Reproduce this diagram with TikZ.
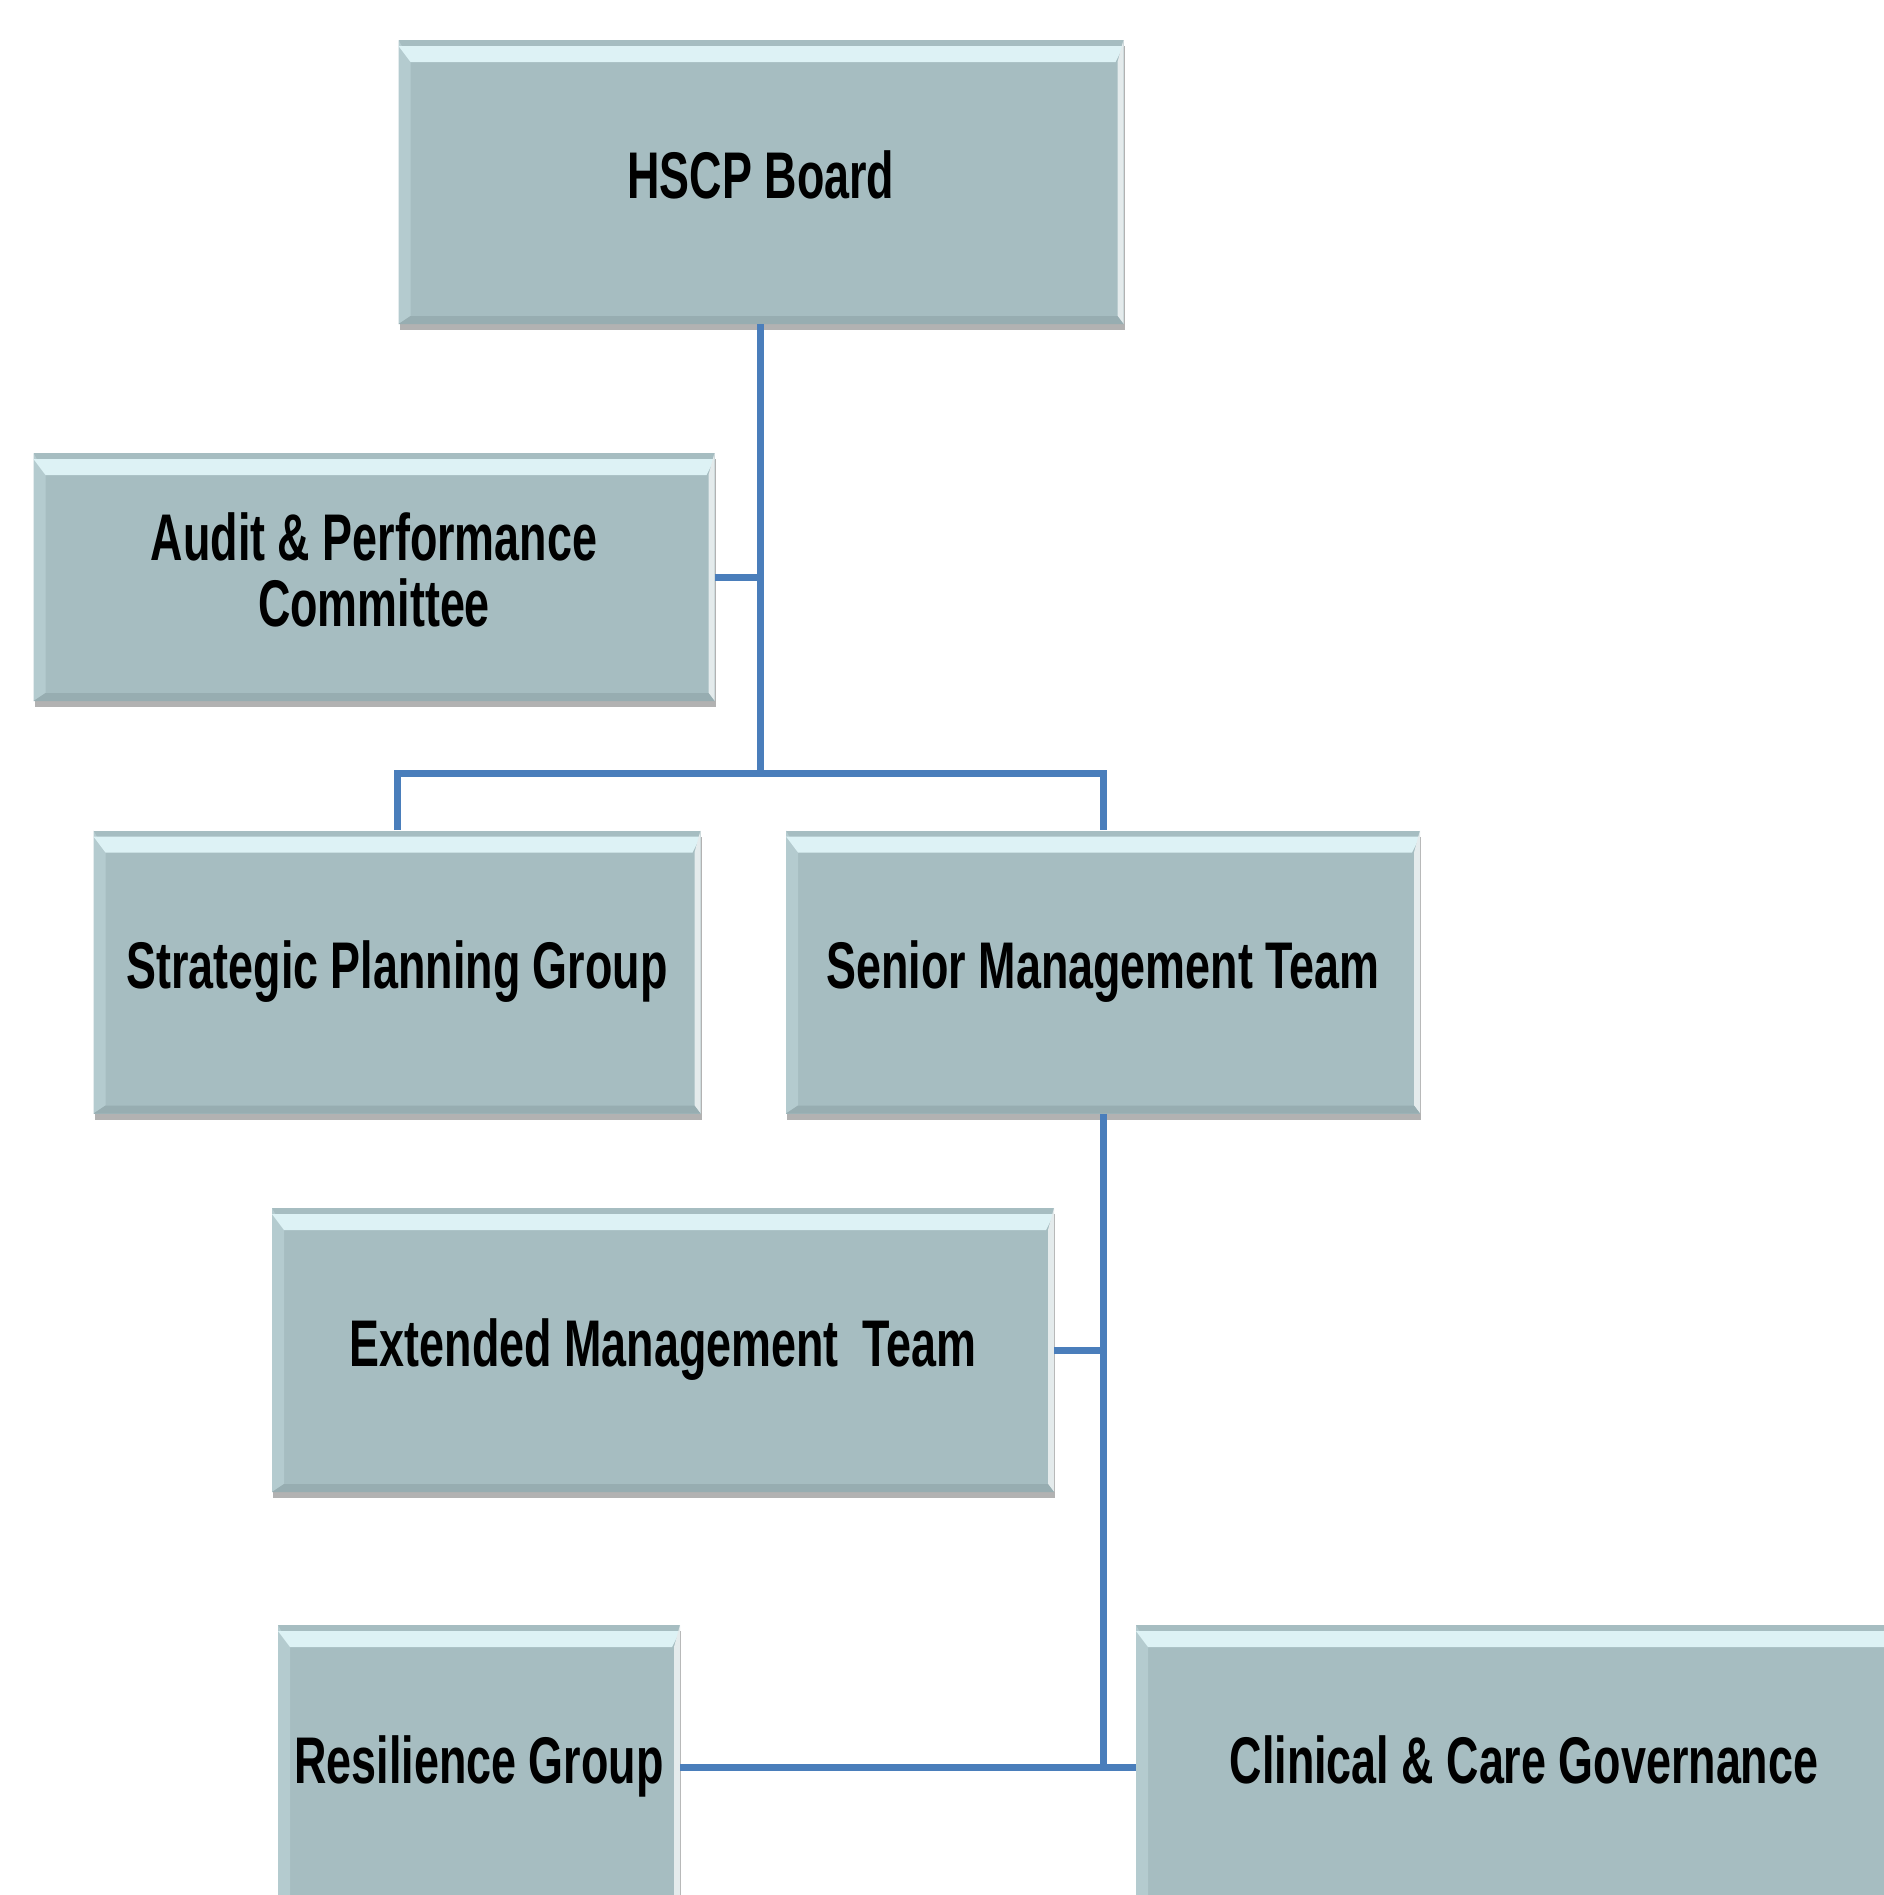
\documentclass[tikz,border=0pt]{standalone}
\usepackage{fontspec}
\setmainfont{Liberation Sans}[FakeStretch=0.68]
\usetikzlibrary{shadows}
\definecolor{boxfill}{HTML}{A6BDC1}
\definecolor{boxtop}{HTML}{DDF2F5}
\definecolor{boxleft}{HTML}{B4CBCF}
\definecolor{boxbottom}{HTML}{97ADB1}
\definecolor{linkblue}{HTML}{4A7EBB}
\tikzset{
  orgbox/.style = {rectangle, fill=boxfill, inner sep=0pt, align=center, text depth=7pt,
    font=\fontsize{33}{33}\selectfont\bfseries,
    drop shadow={shadow xshift=0.5pt, shadow yshift=-3pt, opacity=0.3, fill=black},
    path picture={
      \fill[boxleft] (path picture bounding box.north west) -- (path picture bounding box.south west)
        -- ([shift={(6pt,4pt)}]path picture bounding box.south west) -- ([shift={(6pt,-11pt)}]path picture bounding box.north west) -- cycle;
      \fill[boxtop] ([yshift=-3pt]path picture bounding box.north west) -- ([yshift=-3pt]path picture bounding box.north east)
        -- ([shift={(-4pt,-11pt)}]path picture bounding box.north east) -- ([shift={(6pt,-11pt)}]path picture bounding box.north west) -- cycle;
      \fill[white!70!boxfill] (path picture bounding box.north east) -- (path picture bounding box.south east)
        -- ([shift={(-3pt,4pt)}]path picture bounding box.south east) -- ([shift={(-3pt,-11pt)}]path picture bounding box.north east) -- cycle;
      \fill[boxbottom] (path picture bounding box.south west) -- (path picture bounding box.south east)
        -- ([shift={(-3pt,4pt)}]path picture bounding box.south east) -- ([shift={(6pt,4pt)}]path picture bounding box.south west) -- cycle;
    }},
  link/.style = {draw=linkblue, line width=3.5pt}
}

\begin{document}
\begin{tikzpicture}[x=0.5pt, y=-0.5pt]
  \clip (0,0) rectangle (1884,1895);
  \fill[white] (0,0) rectangle (1884,1895);

  \node[orgbox, minimum width=362.5pt, minimum height=142pt] (board) at (761,182) {HSCP Board};
  \node[orgbox, minimum width=340.5pt, minimum height=124pt] (audit) at (374,577) {Audit \& Performance\\Committee};
  \node[orgbox, minimum width=303.5pt, minimum height=141.5pt] (strategic) at (397,972) {Strategic Planning Group};
  \node[orgbox, minimum width=317pt, minimum height=141.5pt] (senior) at (1103,972) {Senior Management Team};
  \node[orgbox, minimum width=391pt, minimum height=142pt] (extended) at (663,1350) {Extended Management\, Team};
  \node[orgbox, minimum width=201pt, minimum height=142pt] (resilience) at (479,1767) {Resilience Group};
  \node[orgbox, minimum width=388pt, minimum height=142pt] (clinical) at (1524,1767) {Clinical \& Care Governance};

  \coordinate (split) at (760,773);
  \draw[link] (board.south -| split) -- (split);
  \draw[link] (audit.east) -- (audit.east -| split);
  \draw[link] (strategic.north) |- (split) -| (senior.north);
  \draw[link] (senior.south) -- (senior.south |- resilience.east);
  \draw[link] (extended.east) -- (extended.east -| senior.south);
  \draw[link] (resilience.east) -- (clinical.west);
\end{tikzpicture}
\end{document}
